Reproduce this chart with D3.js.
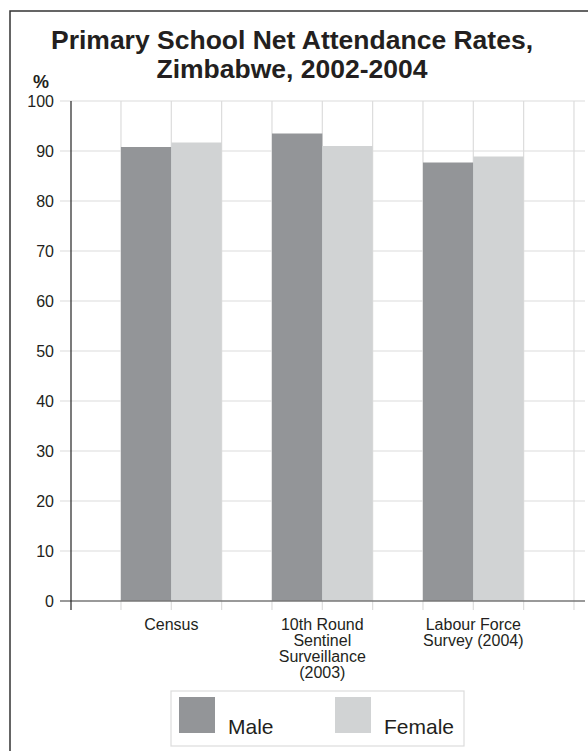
<!DOCTYPE html>
<html>
<head>
<meta charset="utf-8">
<script src="https://cdn.jsdelivr.net/npm/d3@7"></script>
<style>
  html, body { margin: 0; padding: 0; background: #fff; }
  svg { display: block; }
  text { font-family: "Liberation Sans", Arial, sans-serif; fill: #231f20; }
</style>
</head>
<body>
<svg id="chart" width="588" height="751"></svg>
<script>
const categories = [
  ["Census"],
  ["10th Round", "Sentinel", "Surveillance", "(2003)"],
  ["Labour Force", "Survey (2004)"]
];
const categoryKeys = ["Census", "10th Round Sentinel Surveillance (2003)", "Labour Force Survey (2004)"];
const seriesNames = ["Male", "Female"];
const maleValues = [90.8, 93.5, 87.7];
const femaleValues = [91.7, 91.0, 88.9];
const yTicks = [0, 10, 20, 30, 40, 50, 60, 70, 80, 90, 100];
const titleLines = ["Primary School Net Attendance Rates,", "Zimbabwe, 2002-2004"];

const colors = { Male: "#939598", Female: "#d1d3d4" };

const svg = d3.select("#chart");

// outer frame
svg.append("rect")
  .attr("x", 10).attr("y", 11)
  .attr("width", 600).attr("height", 780)
  .attr("fill", "none").attr("stroke", "#333").attr("stroke-width", 1.5);

// title
svg.append("g").selectAll("text").data(titleLines).join("text")
  .attr("x", 292).attr("y", (d, i) => 49 + i * 29)
  .attr("text-anchor", "middle")
  .attr("font-size", 26.5).attr("font-weight", "bold")
  .text(d => d);

svg.append("text").attr("x", 41).attr("y", 88)
  .attr("text-anchor", "middle").attr("font-size", 18).attr("font-weight", "bold")
  .text("%");

const y = d3.scaleLinear().domain([0, 100]).range([601, 101]);
const x = d3.scaleBand().domain(categoryKeys).range([95.8, 548.8]).paddingInner(1/3).paddingOuter(1/6);
const xs = d3.scaleBand().domain(seriesNames).range([0, x.bandwidth()]);
const step = x.step();

const axisX = 71, gridRight = 585;

// horizontal gridlines
svg.append("g").selectAll("line").data(yTicks.filter(t => t > 0)).join("line")
  .attr("x1", 60).attr("x2", gridRight)
  .attr("y1", d => y(d)).attr("y2", d => y(d))
  .attr("stroke", "#dcdcdc").attr("stroke-width", 1.2);

// vertical gridlines
const vgrid = d3.range(10).map(k => x(categoryKeys[0]) + k * step / 3);
svg.append("g").selectAll("line").data(vgrid).join("line")
  .attr("x1", d => d).attr("x2", d => d)
  .attr("y1", y(100)).attr("y2", 610)
  .attr("stroke", "#dcdcdc").attr("stroke-width", 1.2);

// bars
const rows = categoryKeys.map((c, i) => ({ c, Male: maleValues[i], Female: femaleValues[i] }));
svg.append("g").selectAll("g").data(rows).join("g")
  .attr("transform", d => `translate(${x(d.c)},0)`)
  .selectAll("rect").data(d => seriesNames.map(s => ({ s, v: d[s] }))).join("rect")
  .attr("x", d => xs(d.s)).attr("width", xs.bandwidth())
  .attr("y", d => y(d.v)).attr("height", d => y(0) - y(d.v))
  .attr("fill", d => colors[d.s]);

// zero line
svg.append("line").attr("x1", 60).attr("x2", gridRight)
  .attr("y1", y(0)).attr("y2", y(0))
  .attr("stroke", "#777").attr("stroke-width", 1.5);

// y axis line
svg.append("line").attr("x1", axisX).attr("x2", axisX)
  .attr("y1", y(100)).attr("y2", 610)
  .attr("stroke", "#222").attr("stroke-width", 1.2);

// y tick labels
svg.append("g").selectAll("text").data(yTicks).join("text")
  .attr("x", 54).attr("y", d => y(d)).attr("dy", "0.36em")
  .attr("text-anchor", "end").attr("font-size", 16)
  .text(d => d);

// x labels
svg.append("g").selectAll("text").data(categoryKeys).join("text")
  .attr("x", d => x(d) + x.bandwidth() / 2)
  .attr("text-anchor", "middle").attr("font-size", 16)
  .each(function(d, i) {
    d3.select(this).selectAll("tspan").data(categories[i]).join("tspan")
      .attr("x", x(d) + x.bandwidth() / 2)
      .attr("y", (t, j) => 630 + j * 16)
      .text(t => t);
  });

// legend
const lg = svg.append("g");
lg.append("rect").attr("x", 171).attr("y", 691).attr("width", 293).attr("height", 55)
  .attr("fill", "#fff").attr("stroke", "#dcdcdc").attr("stroke-width", 1.2);
const legendX = [179, 335];
lg.selectAll("g").data(seriesNames).join("g")
  .attr("transform", (d, i) => `translate(${legendX[i]},697)`)
  .each(function(d) {
    const g = d3.select(this);
    g.append("rect").attr("width", 36).attr("height", 36).attr("fill", colors[d]);
    g.append("text").attr("x", 49).attr("y", 37).attr("font-size", 21).text(d);
  });
</script>
</body>
</html>
